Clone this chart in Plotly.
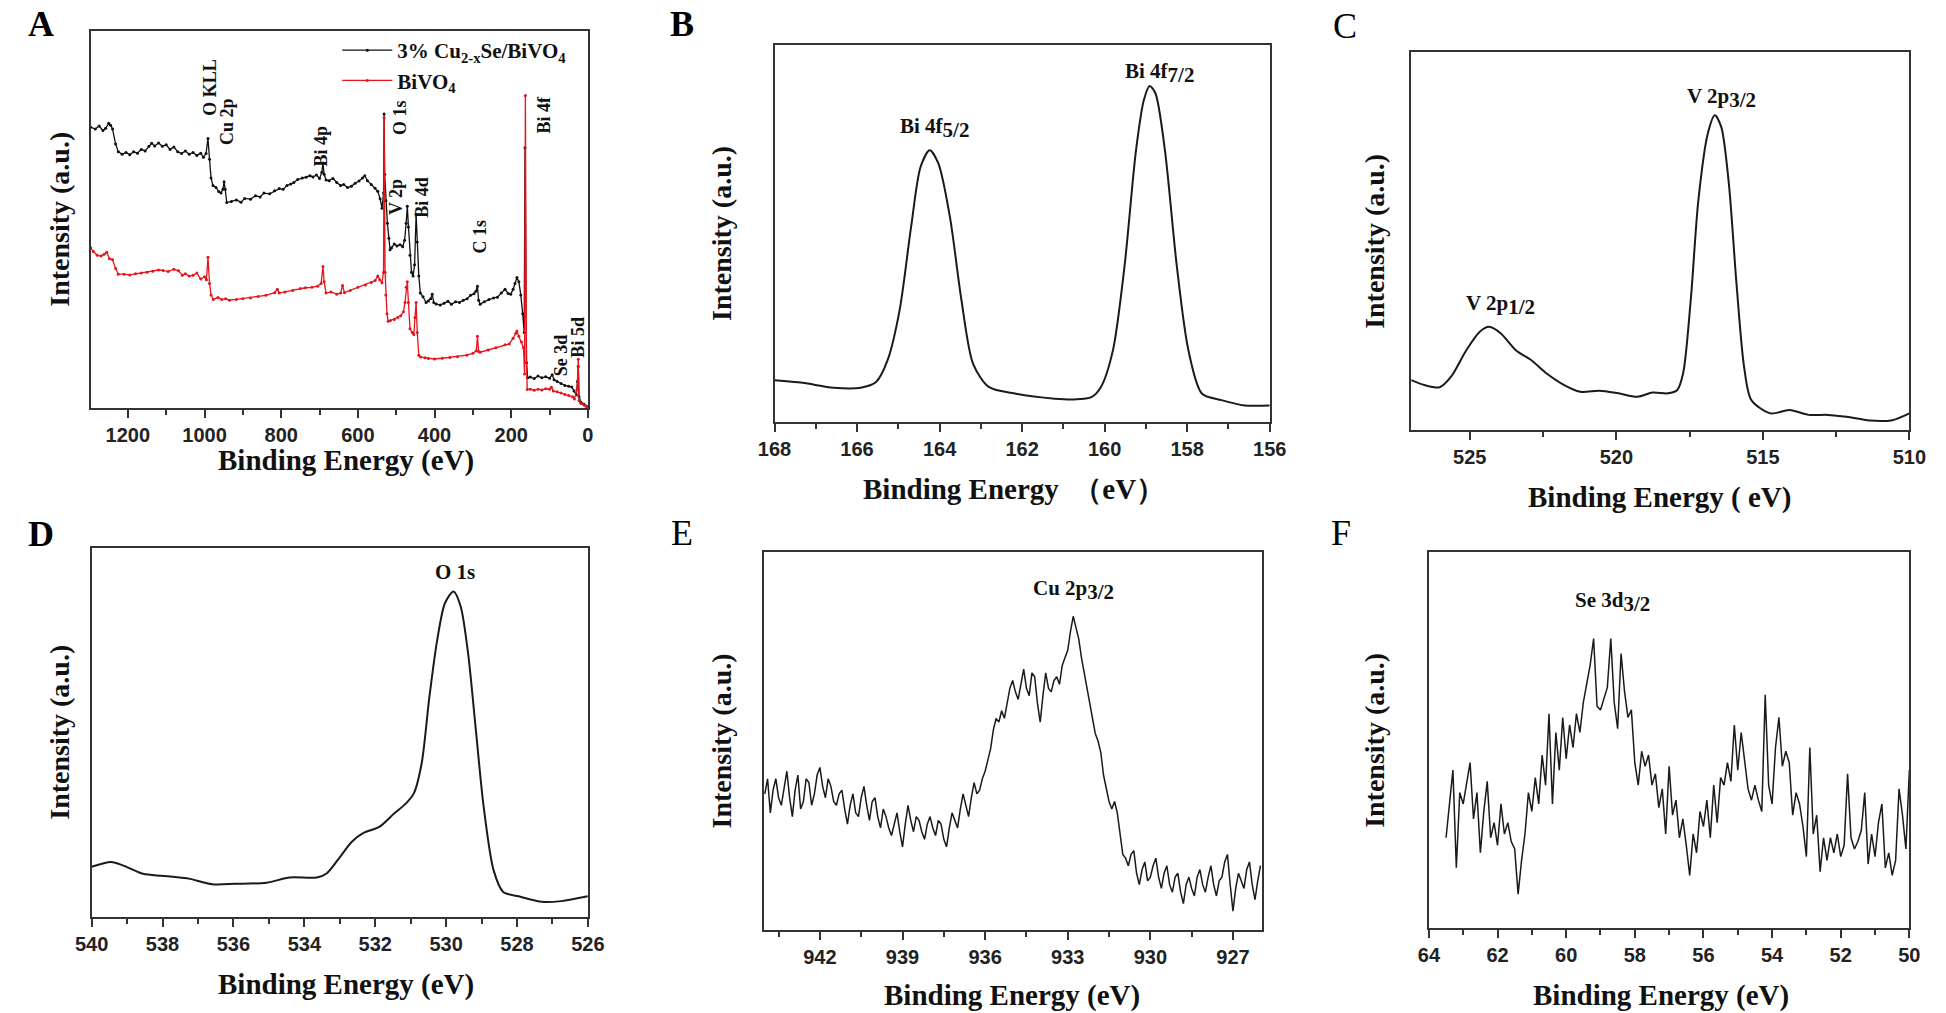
import plotly.graph_objects as go

W, H = 1946, 1013

# ---------------- DATA ----------------
# Panel A: survey spectra (binding energy eV, intensity a.u.)
A_black_E = [1297, 1285, 1275, 1265, 1258, 1250, 1245, 1240, 1232, 1225, 1215, 1205, 1195, 1185, 1175, 1165, 1155, 1145,
             1138, 1130, 1120, 1110, 1100, 1090, 1080, 1070, 1060, 1050, 1040, 1030, 1020, 1010, 1003, 996, 991, 987,
             983, 978, 970, 963, 957, 952, 949, 946, 942, 930, 917, 905, 895, 880, 867, 855, 845, 830, 817, 805, 795,
             785, 775, 767, 757, 745, 735, 725, 717, 708, 700, 694, 691, 688, 683, 675, 665, 655, 645, 637, 627, 617,
             607, 597, 588, 582, 575, 565, 555, 548, 542, 537, 533, 531.5, 530, 527, 523, 519, 516, 512, 505, 498, 490,
             483, 478, 474, 471, 468, 464, 460, 456, 452, 448, 445, 441, 437, 430, 422, 416, 410, 406, 402, 396, 385,
             375, 365, 356, 345, 335, 325, 315, 306, 297, 292, 288, 285, 281, 270, 258, 246, 236, 226, 216, 208, 201,
             195, 190, 185, 180, 175, 170, 166, 164, 160, 157, 150, 140, 130, 120, 110, 100, 93, 88, 80, 70, 60, 50,
             42, 36, 30, 27, 25, 23, 18, 10, 5, 0]
A_black_I = [74.5, 74.0, 74.8, 73.6, 74.2, 75.5, 75.0, 74.0, 70.0, 68.0, 67.3, 67.8, 67.2, 68.0, 67.6, 68.6, 68.2, 69.4,
             70.2, 69.5, 70.3, 69.4, 69.8, 68.6, 69.2, 68.0, 67.5, 68.2, 67.3, 67.8, 67.0, 67.6, 66.5, 67.5, 71.5, 66.0,
             61.0, 59.0, 58.5, 57.4, 57.0, 58.0, 60.0, 58.0, 54.5, 54.8, 55.2, 54.6, 55.6, 55.4, 56.3, 56.0, 57.0, 56.8,
             57.6, 58.2, 58.0, 59.0, 59.4, 59.8, 60.6, 61.0, 61.2, 61.6, 61.3, 61.8, 60.9, 62.5, 65.0, 62.0, 60.5, 60.3,
             60.9, 59.8, 59.0, 59.3, 58.5, 58.8, 59.6, 60.2, 61.0, 61.6, 60.3, 59.3, 58.3, 57.5, 55.5, 53.0, 57.0, 78.0,
             62.0, 55.0, 49.0, 45.0, 42.0, 42.5, 43.5, 43.0, 43.3, 42.8, 44.5, 49.0, 53.5, 48.0, 40.5, 36.0, 35.0, 38.0,
             51.4, 44.0, 35.0, 30.5, 29.5, 28.0, 28.4, 29.0, 30.2, 28.0, 27.6, 27.3, 27.8, 28.3, 27.5, 28.2, 28.0, 28.6,
             29.0, 29.9, 30.3, 31.0, 32.3, 28.6, 27.5, 28.2, 28.8, 29.2, 29.4, 30.5, 31.5, 30.4, 30.2, 31.5, 33.0, 34.6,
             33.5, 30.0, 25.0, 20.0, 69.0, 12.0, 8.0, 8.2, 7.8, 8.5, 8.0, 8.3, 7.9, 8.8, 7.5, 7.0, 6.5, 6.0, 5.8, 5.6,
             4.5, 3.5, 7.0, 11.0, 3.0, 1.5, 1.0, 0.5, 0.3]
A_red_E = [1297, 1290, 1280, 1270, 1262, 1255, 1248, 1240, 1232, 1225, 1210, 1195, 1180, 1165, 1150, 1135, 1120, 1108,
           1095, 1080, 1068, 1058, 1050, 1040, 1030, 1020, 1010, 1000, 995, 991, 987, 983, 977, 965, 955, 945, 935,
           917, 900, 880, 860, 840, 817, 810, 805, 790, 770, 750, 737, 720, 705, 696, 691, 688, 683, 670, 655, 645,
           640, 635, 620, 600, 580, 565, 555, 548, 543, 537, 533, 531.5, 529, 527, 524, 521, 515, 505, 496, 488, 481,
           477, 474, 471, 468, 464, 458, 454, 451, 448, 445, 441, 436, 425, 416, 400, 380, 360, 340, 316, 300, 291,
           288, 285, 281, 260, 240, 216, 205, 195, 188, 185, 180, 173, 168, 165, 163, 160, 158, 150, 140, 130, 120,
           110, 100, 95, 90, 80, 70, 60, 50, 40, 35, 28, 25, 23, 18, 10, 5, 0]
A_red_I = [42.5, 41.5, 40.5, 40.3, 40.8, 41.3, 39.6, 39.3, 37.0, 35.5, 35.5, 35.3, 35.6, 35.8, 36.0, 36.3, 36.6, 36.5,
           36.2, 36.8, 36.4, 35.2, 35.6, 35.0, 35.2, 35.8, 34.2, 34.8, 34.0, 40.0, 33.0, 30.0, 28.8, 29.3, 28.8, 29.0,
           28.6, 28.8, 29.0, 29.2, 29.6, 29.9, 30.6, 31.5, 30.5, 30.8, 31.2, 31.7, 31.9, 32.0, 32.3, 33.0, 37.5, 33.5,
           30.5, 30.8, 30.2, 30.5, 32.5, 30.6, 31.2, 32.0, 32.6, 33.3, 33.8, 35.0, 34.0, 33.2, 36.0, 77.0, 36.0, 30.0,
           25.0, 23.0, 23.2, 23.5, 24.0, 24.5, 25.5, 28.0, 32.0, 33.5, 28.0, 21.0, 20.0, 19.5, 24.0, 28.0, 20.0, 14.0,
           13.5, 13.3, 13.1, 13.0, 13.2, 13.4, 13.6, 14.0, 14.5, 15.2, 19.0, 15.0, 14.8, 15.4, 16.0, 16.8, 17.0, 18.5,
           19.8, 20.4, 19.0, 17.5, 16.0, 9.0, 82.9, 12.0, 4.9, 5.0, 4.7, 5.0, 4.8, 5.1, 5.0, 5.5, 4.5, 4.3, 4.0, 3.6,
           3.3, 3.0, 2.4, 5.0, 12.9, 2.0, 1.2, 0.8, 0.5, 0.4]
A_series_names = ["3% Cu<sub>2-x</sub>Se/BiVO<sub>4</sub>", "BiVO<sub>4</sub>"]
A_peak_labels = ["O KLL", "Cu 2p", "Bi 4p", "O 1s", "V 2p", "Bi 4d", "C 1s", "Bi 4f", "Se 3d", "Bi 5d"]
A_peak_E = [988, 940, 695, 492, 500, 433, 282, 113, 70, 26]
A_peak_I = [85, 76, 69.5, 77, 56, 56, 45.4, 77.7, 14, 18.9]

# Panel B: Bi 4f
B_E = [168.0, 167.32, 166.57, 165.91, 165.54, 165.26, 164.97, 164.69, 164.46, 164.24, 164.03, 163.75, 163.47, 163.19,
       162.81, 162.15, 161.21, 160.74, 160.32, 160.09, 159.80, 159.52, 159.24, 159.05, 158.91, 158.77, 158.54, 158.25,
       157.97, 157.64, 157.17, 156.61, 156.0]
B_I = [11.1, 10.4, 9.1, 9.1, 10.6, 16.4, 29.6, 51.8, 67.7, 72.1, 68.6, 54.4, 32.3, 15.5, 9.3, 7.5, 6.2, 6.0, 6.6, 9.3,
       19.0, 41.2, 72.1, 85.4, 89.1, 87.2, 72.1, 41.2, 19.0, 7.5, 5.8, 4.4, 4.4]
B_labels = [("Bi 4f", "5/2"), ("Bi 4f", "7/2")]
B_label_E = [164.13, 158.68]
B_label_I = [78.0, 92.5]

# Panel C: V 2p
C_E = [527.0, 526.55, 526.03, 525.64, 525.12, 524.66, 524.34, 523.95, 523.43, 522.91, 522.39, 521.87, 521.23, 520.58,
       519.93, 519.28, 518.76, 518.24, 517.92, 517.72, 517.46, 517.20, 516.88, 516.64, 516.42, 516.16, 515.90, 515.64,
       515.39, 514.74, 514.09, 513.44, 512.79, 512.14, 511.36, 510.58, 510.0]
C_I = [13.2, 11.9, 11.3, 14.1, 21.1, 26.0, 27.3, 25.6, 21.1, 18.5, 15.0, 12.3, 10.1, 10.4, 9.7, 8.8, 9.9, 9.7, 10.6,
       15.0, 34.4, 60.8, 78.4, 83.3, 80.2, 65.2, 38.8, 16.7, 7.9, 4.4, 5.3, 4.0, 4.0, 3.5, 2.5, 2.6, 4.4]
C_labels = [("V 2p", "1/2"), ("V 2p", "3/2")]
C_label_E = [523.95, 516.42]
C_label_I = [33.0, 87.7]

# Panel D: O 1s
D_E = [540.0, 539.45, 539.12, 538.58, 537.70, 537.26, 536.60, 535.95, 535.07, 534.41, 533.65, 533.37, 532.99, 532.66,
       532.33, 531.89, 531.46, 531.13, 530.91, 530.69, 530.47, 530.25, 530.03, 529.79, 529.59, 529.38, 529.16, 528.94,
       528.66, 528.39, 527.95, 527.29, 526.75, 526.0]
D_I = [13.6, 14.9, 14.0, 11.8, 10.9, 10.4, 8.9, 9.0, 9.3, 10.7, 10.7, 11.8, 16.3, 20.4, 22.8, 24.4, 28.1, 30.8, 33.5,
       41.6, 59.7, 75.1, 85.1, 88.2, 84.2, 71.5, 50.7, 29.9, 12.7, 6.8, 5.6, 4.1, 4.3, 5.6]
D_labels = [("O 1s", "")]
D_label_E = [529.76]
D_label_I = [93.4]

# Panel E: Cu 2p3/2 (0.1 eV steps)
E_E = [944.0, 943.9, 943.8, 943.7, 943.6, 943.5, 943.4, 943.3, 943.2, 943.1,
       943.0, 942.9, 942.8, 942.7, 942.6, 942.5, 942.4, 942.3, 942.2, 942.1,
       942.0, 941.9, 941.8, 941.7, 941.6, 941.5, 941.4, 941.3, 941.2, 941.1,
       941.0, 940.9, 940.8, 940.7, 940.6, 940.5, 940.4, 940.3, 940.2, 940.1,
       940.0, 939.9, 939.8, 939.7, 939.6, 939.5, 939.4, 939.3, 939.2, 939.1,
       939.0, 938.9, 938.8, 938.7, 938.6, 938.5, 938.4, 938.3, 938.2, 938.1,
       938.0, 937.9, 937.8, 937.7, 937.6, 937.5, 937.4, 937.3, 937.2, 937.1,
       937.0, 936.9, 936.8, 936.7, 936.6, 936.5, 936.4, 936.3, 936.2, 936.1,
       936.0, 935.9, 935.8, 935.7, 935.6, 935.5, 935.4, 935.3, 935.2, 935.1,
       935.0, 934.9, 934.8, 934.7, 934.6, 934.5, 934.4, 934.3, 934.2, 934.1,
       934.0, 933.9, 933.8, 933.7, 933.6, 933.5, 933.4, 933.3, 933.2, 933.1,
       933.0, 932.9, 932.8, 932.7, 932.6, 932.5, 932.4, 932.3, 932.2, 932.1,
       932.0, 931.9, 931.8, 931.7, 931.6, 931.5, 931.4, 931.3, 931.2, 931.1,
       931.0, 930.9, 930.8, 930.7, 930.6, 930.5, 930.4, 930.3, 930.2, 930.1,
       930.0, 929.9, 929.8, 929.7, 929.6, 929.5, 929.4, 929.3, 929.2, 929.1,
       929.0, 928.9, 928.8, 928.7, 928.6, 928.5, 928.4, 928.3, 928.2, 928.1,
       928.0, 927.9, 927.8, 927.7, 927.6, 927.5, 927.4, 927.3, 927.2, 927.1,
       927.0, 926.9, 926.8, 926.7, 926.6, 926.5, 926.4, 926.3, 926.2, 926.1,
       926.0]
E_I = [36, 40, 31, 37, 40, 35, 33, 38, 42, 35,
       30, 37, 41, 32, 34, 40, 39, 33, 36, 41,
       43, 38, 35, 40, 38, 34, 33, 36, 37, 32,
       28, 33, 36, 31, 30, 35, 38, 33, 29, 34,
       35, 30, 27, 32, 30, 27, 25, 28, 31, 26,
       22, 28, 33, 29, 26, 30, 29, 26, 24, 28,
       30, 27, 25, 29, 28, 24, 22, 27, 31, 29,
       27, 32, 36, 33, 30, 35, 39, 36, 37, 40,
       42, 45, 48, 53, 56, 55, 58, 56, 60, 64,
       66, 63, 61, 65, 69, 64, 62, 68, 67, 60,
       55, 62, 68, 64, 63, 66, 67, 65, 70, 72,
       74, 79, 83, 80, 77, 72, 68, 64, 60, 57,
       52, 50, 47, 41, 37, 34, 32, 34, 31, 25,
       20, 19, 17, 20, 21, 15, 12, 16, 18, 13,
       14, 17, 19, 14, 11, 15, 17, 12, 10, 14,
       15, 10, 7, 12, 14, 11, 9, 14, 16, 12,
       10, 14, 17, 12, 9, 13, 14, 18, 20, 12,
       5, 11, 15, 13, 11, 16, 18, 12, 8, 13,
       17]
E_labels = [("Cu 2p", "3/2")]
E_label_E = [932.78]
E_label_I = [90.0]

# Panel F: Se 3d
F_E = [63.5, 63.4, 63.3, 63.2, 63.1, 63.0, 62.9, 62.8, 62.7, 62.6,
       62.5, 62.4, 62.3, 62.2, 62.1, 62.0, 61.9, 61.8, 61.7, 61.6,
       61.5, 61.4, 61.3, 61.2, 61.1, 61.0, 60.9, 60.8, 60.7, 60.6,
       60.5, 60.4, 60.3, 60.2, 60.1, 60.0, 59.9, 59.8, 59.7, 59.6,
       59.5, 59.4, 59.3, 59.2, 59.1, 59.0, 58.9, 58.8, 58.7, 58.6,
       58.5, 58.4, 58.3, 58.2, 58.1, 58.0, 57.9, 57.8, 57.7, 57.6,
       57.5, 57.4, 57.3, 57.2, 57.1, 57.0, 56.9, 56.8, 56.7, 56.6,
       56.5, 56.4, 56.3, 56.2, 56.1, 56.0, 55.9, 55.8, 55.7, 55.6,
       55.5, 55.4, 55.3, 55.2, 55.1, 55.0, 54.9, 54.8, 54.7, 54.6,
       54.5, 54.4, 54.3, 54.2, 54.1, 54.0, 53.9, 53.8, 53.7, 53.6,
       53.5, 53.4, 53.3, 53.2, 53.1, 53.0, 52.9, 52.8, 52.7, 52.6,
       52.5, 52.4, 52.3, 52.2, 52.1, 52.0, 51.9, 51.8, 51.7, 51.6,
       51.5, 51.4, 51.3, 51.2, 51.1, 51.0, 50.9, 50.8, 50.7, 50.6,
       50.5, 50.4, 50.3, 50.2, 50.1, 50.0]
F_I = [24, 33, 42, 16, 36, 33, 38, 44, 29, 36,
       20, 31, 39, 24, 28, 22, 33, 25, 28, 23,
       21, 9, 18, 25, 36, 31, 40, 33, 46, 38,
       57, 33, 52, 42, 56, 45, 54, 48, 57, 52,
       60, 65, 70, 77, 59, 58, 61, 64, 77, 60,
       53, 73, 63, 56, 58, 44, 38, 47, 43, 46,
       38, 41, 32, 37, 25, 43, 30, 34, 24, 29,
       22, 14, 25, 20, 31, 27, 34, 24, 38, 28,
       40, 38, 44, 39, 54, 42, 52, 45, 37, 34,
       38, 34, 31, 62, 38, 33, 48, 56, 43, 47,
       44, 30, 36, 33, 27, 19, 48, 25, 30, 15,
       24, 18, 24, 20, 25, 19, 22, 41, 24, 21,
       23, 26, 36, 17, 25, 19, 28, 33, 16, 20,
       14, 18, 37, 30, 21, 42]
F_labels = [("Se 3d", "3/2")]
F_label_E = [58.65]
F_label_I = [86.7]

panel_letters = ["A", "B", "C", "D", "E", "F"]
x_titles = ["Binding Energy (eV)", "Binding Energy  \uff08eV\uff09", "Binding Energy ( eV)",
            "Binding Energy (eV)", "Binding Energy (eV)", "Binding Energy (eV)"]
y_title = "Intensity (a.u.)"

# ---------------- LAYOUT / STYLE ----------------
SERIF = "Liberation Serif, Times New Roman, serif"
SANS = "Liberation Sans, Arial, sans-serif"
FRAME = "#333333"

# frames in pixels: (left, right, top, bottom)
frames = [(75, 581, 31, 408), (771, 1275, 45, 422), (1419, 1926, 52, 430),
          (76, 581, 548, 917), (760, 1267, 552, 930), (1437, 1926, 552, 928)]
x_ranges = [[1297, 0], [168, 156], [527, 510], [540, 526], [944.04, 925.95], [64, 50]]
x_dtick = [200, 2, 5, 2, 3, 2]
x_tick0 = [0, 0, 0, 0, 927, 0]
x_minor = [100, 1, 2.5, 1, 1.5, 1]
ytitle_x = [43, 717, 1381, 43, 717, 1381]
xtitle_pos = [(335, 460), (1015, 489), (1672, 497), (335, 984), (1013, 995), (1673, 995)]
letter_pos = [(24, 24), (677, 24), (1352, 26), (24, 534), (677, 533), (1348, 533)]
letter_bold = [True, True, False, True, False, False]
LABEL_SIZE = 21


def px(xp):
    return xp / W


def py(yp):
    return 1 - yp / H


def peak_text(main, sub):
    if not sub:
        return f"<b>{main}</b>"
    return f"<b>{main}<sub><span style='font-size:{LABEL_SIZE}px'>{sub}</span></sub></b>"


fig = go.Figure()

# Panel A traces
fig.add_trace(go.Scatter(x=A_black_E, y=A_black_I, mode="lines+markers", name=A_series_names[0],
                         line=dict(color="#111111", width=1.3), marker=dict(size=3, color="#111111"),
                         xaxis="x", yaxis="y"))
fig.add_trace(go.Scatter(x=A_red_E, y=A_red_I, mode="lines+markers", name=A_series_names[1],
                         line=dict(color="#e8141c", width=1.3), marker=dict(size=3, color="#e8141c"),
                         xaxis="x", yaxis="y"))

smooth_sets = [(B_E, B_I), (C_E, C_I), (D_E, D_I)]
for i, (ex, iy) in enumerate(smooth_sets):
    n = i + 2
    fig.add_trace(go.Scatter(x=ex, y=iy, mode="lines", showlegend=False,
                             line=dict(color="#1a1a1a", width=2, shape="spline", smoothing=0.8),
                             xaxis=f"x{n}", yaxis=f"y{n}"))
noisy_sets = [(E_E, E_I), (F_E, F_I)]
for i, (ex, iy) in enumerate(noisy_sets):
    n = i + 5
    fig.add_trace(go.Scatter(x=ex, y=iy, mode="lines", showlegend=False,
                             line=dict(color="#1a1a1a", width=1.5),
                             xaxis=f"x{n}", yaxis=f"y{n}"))

layout = dict(width=W, height=H, margin=dict(l=0, r=0, t=0, b=0),
              paper_bgcolor="white", plot_bgcolor="white", showlegend=True,
              legend=dict(x=px(326), y=py(30), xanchor="left", yanchor="top", bgcolor="rgba(0,0,0,0)",
                          font=dict(family=SERIF, size=21, color="#111111", weight="bold"),
                          tracegroupgap=0, itemwidth=50))

annotations = []
for k in range(6):
    n = "" if k == 0 else str(k + 1)
    l, r, t, b = frames[k]
    layout[f"xaxis{n}"] = dict(domain=[px(l), px(r)], range=x_ranges[k], autorange=False, anchor=f"y{n}",
                               showline=True, linecolor=FRAME, linewidth=2, mirror=True,
                               ticks="outside", ticklen=8, tickwidth=2, tickcolor=FRAME,
                               dtick=x_dtick[k], tick0=x_tick0[k], showgrid=False, zeroline=False,
                               tickfont=dict(family=SANS, size=20, color="#222222", weight="bold"),
                               minor=dict(ticks="outside", ticklen=5, tickwidth=2, tickcolor=FRAME,
                                          dtick=x_minor[k], showgrid=False))
    layout[f"yaxis{n}"] = dict(domain=[py(b), py(t)], range=[0, 100], autorange=False, anchor=f"x{n}",
                               showline=True, linecolor=FRAME, linewidth=2, mirror=True,
                               ticks="", showticklabels=False, showgrid=False, zeroline=False)
    # axis titles
    annotations.append(dict(text=f"<b>{x_titles[k]}</b>", x=px(xtitle_pos[k][0]), y=py(xtitle_pos[k][1]),
                            xref="paper", yref="paper", showarrow=False, xanchor="center", yanchor="middle",
                            font=dict(family=SERIF, size=29, color="#111111")))
    annotations.append(dict(text=f"<b>{y_title}</b>", x=px(ytitle_x[k]), y=py((t + b) / 2),
                            xref="paper", yref="paper", showarrow=False, textangle=-90,
                            xanchor="center", yanchor="middle",
                            font=dict(family=SERIF, size=28, color="#111111")))
    lt = panel_letters[k]
    annotations.append(dict(text=(f"<b>{lt}</b>" if letter_bold[k] else lt),
                            x=px(letter_pos[k][0]), y=py(letter_pos[k][1]),
                            xref="paper", yref="paper", showarrow=False, xanchor="center", yanchor="middle",
                            font=dict(family=SERIF, size=36, color="#000000")))

# Panel A peak labels (vertical)
for lab, e, iv in zip(A_peak_labels, A_peak_E, A_peak_I):
    annotations.append(dict(text=f"<b>{lab}</b>", x=e, y=iv, xref="x", yref="y", showarrow=False,
                            textangle=-90, xanchor="center", yanchor="middle",
                            font=dict(family=SERIF, size=18, color="#111111")))

label_sets = [(B_labels, B_label_E, B_label_I, "2"), (C_labels, C_label_E, C_label_I, "3"),
              (D_labels, D_label_E, D_label_I, "4"), (E_labels, E_label_E, E_label_I, "5"),
              (F_labels, F_label_E, F_label_I, "6")]
for labs, es, ivs, n in label_sets:
    for (main, sub), e, iv in zip(labs, es, ivs):
        annotations.append(dict(text=peak_text(main, sub), x=e, y=iv, xref=f"x{n}", yref=f"y{n}",
                                showarrow=False, xanchor="center", yanchor="middle",
                                font=dict(family=SERIF, size=LABEL_SIZE, color="#111111")))

layout["annotations"] = annotations
fig.update_layout(**layout)

fig.write_html("out.html", config={"displayModeBar": False},
               post_script="document.body.style.margin='0';document.body.style.overflow='hidden';")
